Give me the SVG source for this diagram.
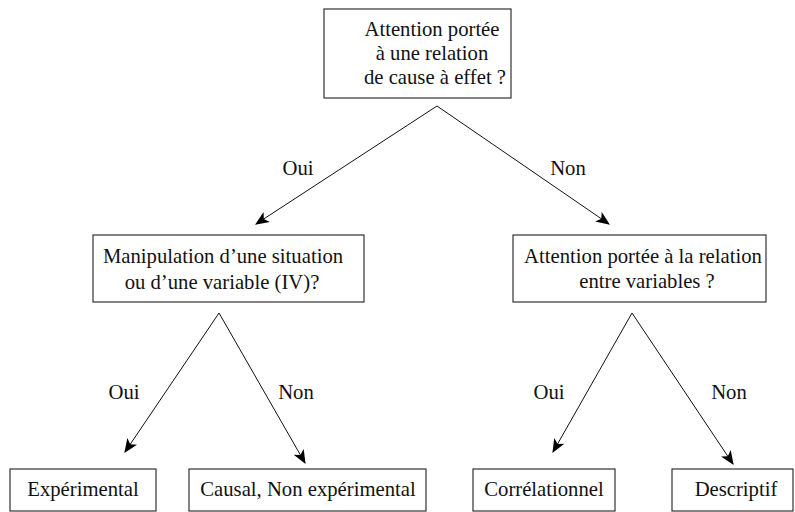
<svg xmlns="http://www.w3.org/2000/svg" width="795" height="512" viewBox="0 0 795 512">
<style>
.box{fill:#fff;stroke:#333;stroke-width:1.2}
.t{font-family:"Liberation Serif","Times New Roman","DejaVu Serif",serif;font-size:20.7px;fill:#111;text-anchor:middle}
.c{stroke:#111;stroke-width:1;fill:none;marker-end:url(#ah)}
</style>
<defs>
<marker id="ah" viewBox="0 0 12 10" refX="11" refY="5" markerWidth="14" markerHeight="12" markerUnits="userSpaceOnUse" orient="auto">
<path d="M0,0 L12,5 L0,10 L3,5 Z" fill="#000"/>
</marker>
</defs>
<rect width="795" height="512" fill="#fff"/>
<g id="connectors">
<line class="c" x1="437" y1="106" x2="256" y2="224"/>
<line class="c" x1="437" y1="106" x2="609" y2="224"/>
<line class="c" x1="219" y1="313" x2="125" y2="452"/>
<line class="c" x1="219" y1="313" x2="305" y2="463"/>
<line class="c" x1="632" y1="313" x2="553" y2="452"/>
<line class="c" x1="632" y1="313" x2="733" y2="464"/>
</g>
<g id="labels">
<text class="t" x="298" y="175">Oui</text>
<text class="t" x="568" y="175">Non</text>
<text class="t" x="124" y="399">Oui</text>
<text class="t" x="296" y="399">Non</text>
<text class="t" x="549" y="399">Oui</text>
<text class="t" x="729" y="399">Non</text>
</g>
<g id="n-root">
<rect class="box" x="324" y="9" width="187" height="89"/>
<text class="t" x="432" y="36">Attention portée</text>
<text class="t" x="432" y="60">à une relation</text>
<text class="t" x="435" y="84">de cause à effet ?</text>
</g>
<g id="n-manip">
<rect class="box" x="93" y="235" width="271" height="67"/>
<text class="t" x="223" y="263">Manipulation d’une situation</text>
<text class="t" x="222" y="289">ou d’une variable (IV)?</text>
</g>
<g id="n-rel">
<rect class="box" x="513" y="235" width="253" height="67"/>
<text class="t" x="643" y="263">Attention portée à la relation</text>
<text class="t" x="647" y="288">entre variables ?</text>
</g>
<g id="n-exp">
<rect class="box" x="10" y="469" width="146" height="42"/>
<text class="t" x="83" y="496">Expérimental</text>
</g>
<g id="n-causal">
<rect class="box" x="189" y="469" width="237" height="42"/>
<text class="t" x="308" y="496">Causal, Non expérimental</text>
</g>
<g id="n-corr">
<rect class="box" x="473" y="469" width="142" height="42"/>
<text class="t" x="544" y="496">Corrélationnel</text>
</g>
<g id="n-desc">
<rect class="box" x="672" y="469" width="121" height="42"/>
<text class="t" x="736" y="496">Descriptif</text>
</g>
</svg>
